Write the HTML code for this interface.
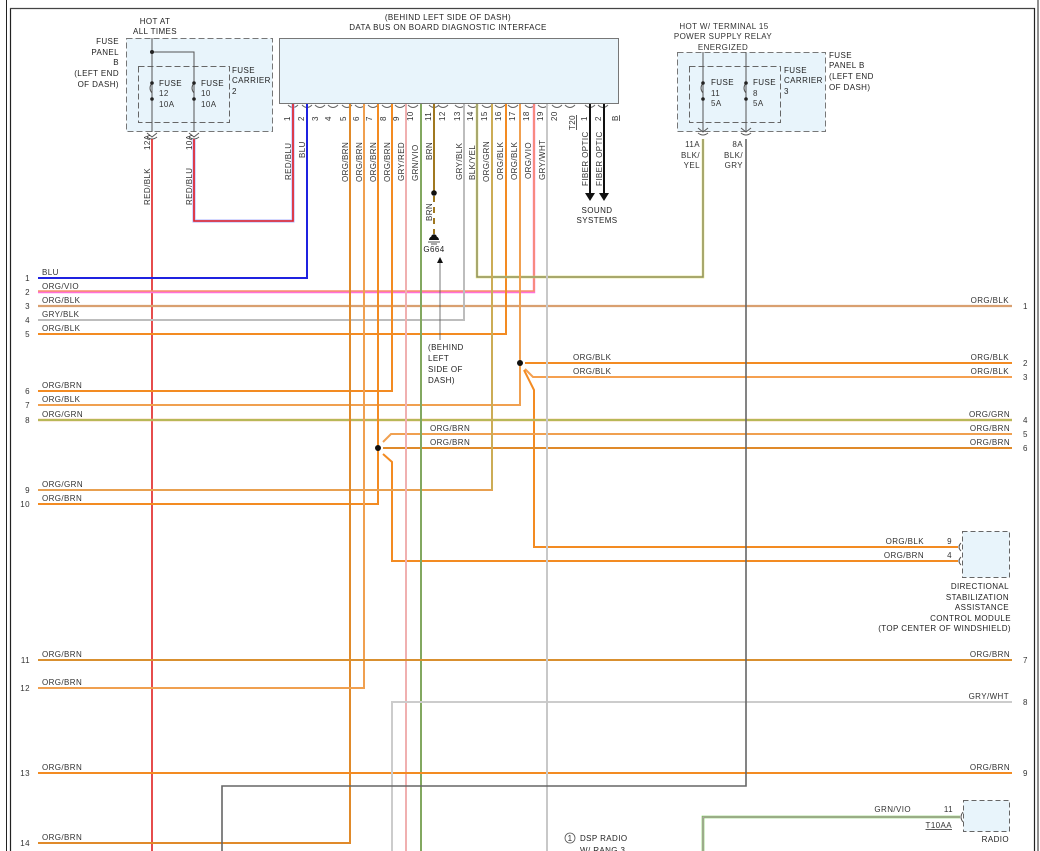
<!DOCTYPE html>
<html><head><meta charset="utf-8"><style>
html,body{margin:0;padding:0;background:#fff;}
svg{display:block;}
text{font-family:"Liberation Sans",sans-serif;font-size:8px;fill:#333;letter-spacing:0.4px;}
.b{fill:#222;}
</style></head><body>
<svg width="1040" height="851" viewBox="0 0 1040 851" xmlns="http://www.w3.org/2000/svg">
<!-- borders -->
<line x1="6.5" y1="0" x2="6.5" y2="851" stroke="#222" stroke-width="1"/>
<line x1="10.5" y1="8" x2="10.5" y2="851" stroke="#222" stroke-width="1.2"/>
<line x1="10" y1="8.5" x2="1035" y2="8.5" stroke="#444" stroke-width="1.2"/>
<line x1="1034.5" y1="8" x2="1034.5" y2="851" stroke="#222" stroke-width="1.2"/>
<line x1="1038" y1="0" x2="1038" y2="851" stroke="#222" stroke-width="1"/>

<!-- fuse panel left -->
<rect x="126.5" y="38.5" width="146" height="93" fill="#e8f4fb" stroke="#777" stroke-dasharray="6,3"/>
<rect x="138.5" y="66.5" width="91" height="56" fill="none" stroke="#666" stroke-dasharray="6,3"/>
<text x="155" y="24" class="b" text-anchor="middle">HOT AT</text>
<text x="155" y="34" class="b" text-anchor="middle">ALL TIMES</text>
<text x="119" y="44" class="b" text-anchor="end">FUSE</text>
<text x="119" y="55" class="b" text-anchor="end">PANEL</text>
<text x="119" y="65" class="b" text-anchor="end">B</text>
<text x="119" y="76" class="b" text-anchor="end">(LEFT END</text>
<text x="119" y="87" class="b" text-anchor="end">OF DASH)</text>
<text x="232" y="73" class="b">FUSE</text>
<text x="232" y="83" class="b">CARRIER</text>
<text x="232" y="94" class="b">2</text>
<g stroke="#555" stroke-width="1" fill="none">
<line x1="152" y1="38" x2="152" y2="132"/>
<polyline points="152,52 194,52 194,132"/>
<path d="M152,83 q-4,5 0,10 M194,83 q-4,5 0,10"/>
</g>
<g fill="#222"><circle cx="152" cy="52" r="2"/><circle cx="152" cy="83" r="1.8"/><circle cx="152" cy="99" r="1.8"/><circle cx="194" cy="83" r="1.8"/><circle cx="194" cy="99" r="1.8"/></g>
<text x="159" y="86" class="b">FUSE</text><text x="159" y="96">12</text><text x="159" y="107">10A</text>
<text x="201" y="86" class="b">FUSE</text><text x="201" y="96">10</text><text x="201" y="107">10A</text>
<path d="M147,133 l5,4 l5,-4 M189,133 l5,4 l5,-4" stroke="#555" fill="none"/>
<path d="M147,137 q5,4 10,0 M189,137 q5,4 10,0" stroke="#555" fill="none"/>

<!-- fuse panel right -->
<rect x="677.5" y="52.5" width="148" height="79" fill="#e8f4fb" stroke="#777" stroke-dasharray="6,3"/>
<rect x="689.5" y="66.5" width="91" height="56" fill="none" stroke="#666" stroke-dasharray="6,3"/>
<text x="724" y="29" text-anchor="middle">HOT W/ TERMINAL 15</text>
<text x="723" y="39" text-anchor="middle">POWER SUPPLY RELAY</text>
<text x="723" y="50" text-anchor="middle">ENERGIZED</text>
<text x="829" y="58" class="b">FUSE</text><text x="829" y="68" class="b">PANEL B</text><text x="829" y="79" class="b">(LEFT END</text><text x="829" y="90" class="b">OF DASH)</text>
<text x="784" y="73" class="b">FUSE</text><text x="784" y="83" class="b">CARRIER</text><text x="784" y="94" class="b">3</text>
<g stroke="#555" fill="none">
<line x1="703" y1="52" x2="703" y2="132"/><line x1="746" y1="52" x2="746" y2="132"/>
<path d="M703,83 q-4,5 0,10 M746,83 q-4,5 0,10"/>
</g>
<g fill="#222"><circle cx="703" cy="83" r="1.8"/><circle cx="703" cy="99" r="1.8"/><circle cx="746" cy="83" r="1.8"/><circle cx="746" cy="99" r="1.8"/></g>
<text x="711" y="85" class="b">FUSE</text><text x="711" y="96">11</text><text x="711" y="106">5A</text>
<text x="753" y="85" class="b">FUSE</text><text x="753" y="96">8</text><text x="753" y="106">5A</text>
<path d="M698,128 l5,4 l5,-4 M741,128 l5,4 l5,-4 M698,133 q5,4 10,0 M741,133 q5,4 10,0" stroke="#555" fill="none"/>
<text x="700" y="147" text-anchor="end">11A</text><text x="700" y="158" text-anchor="end">BLK/</text><text x="700" y="168" text-anchor="end">YEL</text>
<text x="743" y="147" text-anchor="end">8A</text><text x="743" y="158" text-anchor="end">BLK/</text><text x="743" y="168" text-anchor="end">GRY</text>

<!-- connector -->
<text x="448" y="20" text-anchor="middle" class="b">(BEHIND LEFT SIDE OF DASH)</text>
<text x="448" y="30" text-anchor="middle" class="b">DATA BUS ON BOARD DIAGNOSTIC INTERFACE</text>
<rect x="279.5" y="38.5" width="339" height="65" fill="#e8f4fb" stroke="#777"/>
<g stroke="#666" fill="none">
<path d="M288,105 q5,5 10,0 M302,105 q5,5 10,0 M315,105 q5,5 10,0 M328,105 q5,5 10,0 M342,105 q5,5 10,0 M355,105 q5,5 10,0 M368,105 q5,5 10,0 M382,105 q5,5 10,0 M395,105 q5,5 10,0 M408,105 q5,5 10,0 M429,105 q5,5 10,0 M438,105 q5,5 10,0 M455,105 q5,5 10,0 M468,105 q5,5 10,0 M482,105 q5,5 10,0 M495,105 q5,5 10,0 M508,105 q5,5 10,0 M525,105 q5,5 10,0 M538,105 q5,5 10,0 M552,105 q5,5 10,0 M565,105 q5,5 10,0 M585,105 q5,5 10,0 M598,105 q5,5 10,0"/>
</g>
<g font-size="7.5">
<text transform="translate(290,121) rotate(-90)">1</text>
<text transform="translate(304,121) rotate(-90)">2</text>
<text transform="translate(318,121) rotate(-90)">3</text>
<text transform="translate(331,121) rotate(-90)">4</text>
<text transform="translate(346,121) rotate(-90)">5</text>
<text transform="translate(359,121) rotate(-90)">6</text>
<text transform="translate(372,121) rotate(-90)">7</text>
<text transform="translate(386,121) rotate(-90)">8</text>
<text transform="translate(399,121) rotate(-90)">9</text>
<text transform="translate(413,121) rotate(-90)">10</text>
<text transform="translate(431,121) rotate(-90)">11</text>
<text transform="translate(445,121) rotate(-90)">12</text>
<text transform="translate(460,121) rotate(-90)">13</text>
<text transform="translate(473,121) rotate(-90)">14</text>
<text transform="translate(487,121) rotate(-90)">15</text>
<text transform="translate(501,121) rotate(-90)">16</text>
<text transform="translate(515,121) rotate(-90)">17</text>
<text transform="translate(529,121) rotate(-90)">18</text>
<text transform="translate(543,121) rotate(-90)">19</text>
<text transform="translate(557,121) rotate(-90)">20</text>
<text transform="translate(575,130) rotate(-90)" text-decoration="underline">T20</text>
<text transform="translate(587,121) rotate(-90)">1</text>
<text transform="translate(601,121) rotate(-90)">2</text>
<text transform="translate(618,121) rotate(-90)" text-decoration="underline">B</text>
</g>
<!-- rotated wire labels -->
<g>
<text transform="translate(150,205) rotate(-90)">RED/BLK</text>
<text transform="translate(150,150) rotate(-90)">12A</text>
<text transform="translate(192,205) rotate(-90)">RED/BLU</text>
<text transform="translate(192,150) rotate(-90)">10A</text>
<text transform="translate(291,180) rotate(-90)">RED/BLU</text>
<text transform="translate(305,158) rotate(-90)">BLU</text>
<text transform="translate(348,182) rotate(-90)">ORG/BRN</text>
<text transform="translate(362,182) rotate(-90)">ORG/BRN</text>
<text transform="translate(376,182) rotate(-90)">ORG/BRN</text>
<text transform="translate(390,182) rotate(-90)">ORG/BRN</text>
<text transform="translate(404,181) rotate(-90)">GRY/RED</text>
<text transform="translate(418,181) rotate(-90)">GRN/VIO</text>
<text transform="translate(432,160) rotate(-90)">BRN</text>
<text transform="translate(432,221) rotate(-90)">BRN</text>
<text transform="translate(462,180) rotate(-90)">GRY/BLK</text>
<text transform="translate(475,180) rotate(-90)">BLK/YEL</text>
<text transform="translate(489,182) rotate(-90)">ORG/GRN</text>
<text transform="translate(503,180) rotate(-90)">ORG/BLK</text>
<text transform="translate(517,180) rotate(-90)">ORG/BLK</text>
<text transform="translate(531,179) rotate(-90)">ORG/VIO</text>
<text transform="translate(545,180) rotate(-90)">GRY/WHT</text>
<text transform="translate(588,186) rotate(-90)" fill="#3a6b8c">FIBER OPTIC</text>
<text transform="translate(602,186) rotate(-90)" fill="#3a6b8c">FIBER OPTIC</text>
</g>
<!-- fiber optic arrows -->
<g stroke="#111" stroke-width="2"><line x1="590" y1="104" x2="590" y2="195"/><line x1="604" y1="104" x2="604" y2="195"/></g>
<path d="M585,193 l5,8 l5,-8 z M599,193 l5,8 l5,-8 z" fill="#111"/>
<text x="597" y="213" text-anchor="middle" class="b">SOUND</text>
<text x="597" y="223" text-anchor="middle" class="b">SYSTEMS</text>

<!-- wires -->
<g fill="none" stroke-width="2">
<!-- red/blk fuse12 -->
<line x1="152" y1="139" x2="152" y2="851" stroke="#e02020" stroke-width="1.6"/>
<!-- red/blu -->
<polyline points="194,139 194,221 293,221 293,104" stroke="#aab0ff" stroke-width="3"/>
<polyline points="194,139 194,221 293,221 293,104" stroke="#e82020" stroke-width="1.6"/>
<!-- blu -->
<polyline points="307,104 307,278 38,278" stroke="#1f22e0"/>
<!-- org/vio line 2 -->
<polyline points="534,104 534,292 38,292" stroke="#ff70d8" stroke-width="2.4"/>
<polyline points="534,104 534,291 38,291" stroke="#f7906a" stroke-width="1.6"/>
<!-- line 3 org/blk full -->
<line x1="38" y1="306" x2="1012" y2="306" stroke="#d9a070" stroke-width="2.2"/>
<!-- gry/blk -->
<polyline points="464,104 464,320 38,320" stroke="#bdbdbd"/>
<!-- org/blk line 5 -->
<polyline points="506,104 506,334 38,334" stroke="#f38b22"/>
<!-- blk/yel -->
<polyline points="477,104 477,277 703,277 703,139" stroke="#d8d860" stroke-width="2.4"/>
<polyline points="477,104 477,277 703,277 703,139" stroke="#777" stroke-width="1"/>
<!-- pin17 junction -->
<polyline points="520,104 520,405 38,405" stroke="#f0a050"/>
<line x1="525" y1="363" x2="1012" y2="363" stroke="#f38b22"/>
<polyline points="525,369 533,377 1012,377" stroke="#f5a050"/>
<polyline points="524,370 534,390 534,547 958,547" stroke="#f38b22"/>
<!-- line 6 -->
<polyline points="392,104 392,391 38,391" stroke="#f38b22"/>
<!-- line 8 org/grn full -->
<line x1="38" y1="420" x2="1012" y2="420" stroke="#f0b070" stroke-width="2.4"/>
<line x1="38" y1="420" x2="1012" y2="420" stroke="#80c040" stroke-width="0.9"/>
<!-- pin7 junction -->
<polyline points="378,104 378,504 38,504" stroke="#f38b22"/>
<polyline points="383,442 391,434 1012,434" stroke="#f0a050"/>
<line x1="383" y1="448" x2="1012" y2="448" stroke="#e08a2a"/>
<polyline points="383,454 392,462 392,561 958,561" stroke="#f38b22"/>
<!-- line 9 org/grn -->
<polyline points="492,104 492,490 38,490" stroke="#e8a050"/>
<line x1="492" y1="104" x2="492" y2="490" stroke="#a0c060" stroke-width="0.8"/>
<!-- pin5, pin6 -->
<polyline points="350,104 350,843 38,843" stroke="#e08a2a"/>
<polyline points="364,104 364,688 38,688" stroke="#f0a050"/>
<!-- gry/red, grn/vio -->
<line x1="406" y1="104" x2="406" y2="851" stroke="#f0b0b0"/>
<line x1="421" y1="104" x2="421" y2="851" stroke="#60c030"/>
<line x1="421" y1="104" x2="421" y2="851" stroke="#d070d0" stroke-width="0.6"/>
<!-- brn -->
<line x1="434" y1="104" x2="434" y2="192" stroke="#a07820"/>
<line x1="434" y1="196" x2="434" y2="234" stroke="#a07820" stroke-dasharray="6,5"/>
<!-- horizontals 11,13 -->
<line x1="38" y1="660" x2="1012" y2="660" stroke="#d99030"/>
<line x1="38" y1="773" x2="1012" y2="773" stroke="#f38b22"/>
<!-- gry/wht line 8 right -->
<polyline points="1012,702 392,702 392,851" stroke="#cccccc"/>
<line x1="547" y1="104" x2="547" y2="851" stroke="#c8c8c8"/>
<!-- blk/gry -->
<polyline points="746,139 746,786 222,786 222,851" stroke="#666" stroke-width="1.6"/>
<!-- grn/vio radio -->
<polyline points="960,817 703,817 703,851" stroke="#70c850" stroke-width="2.6"/>
<polyline points="960,817 703,817 703,851" stroke="#e080e0" stroke-width="0.8"/>
</g>
<g fill="#111">
<circle cx="520" cy="363" r="3"/><circle cx="378" cy="448" r="3"/><circle cx="434" cy="193" r="2.8"/><circle cx="434" cy="237" r="2.8"/>
</g>
<!-- ground symbol -->
<path d="M429,240 a5,4 0 0 1 10,0 z" fill="#111"/>
<line x1="428" y1="242" x2="440" y2="242" stroke="#555"/>
<line x1="431" y1="244" x2="437" y2="244" stroke="#555"/>
<text x="434" y="252" text-anchor="middle" class="b">G664</text>
<line x1="440" y1="262" x2="440" y2="340" stroke="#555" stroke-width="0.8"/>
<path d="M437,263 l3,-6 l3,6 z" fill="#111"/>
<text x="428" y="350" class="b">(BEHIND</text><text x="428" y="361" class="b">LEFT</text><text x="428" y="372" class="b">SIDE OF</text><text x="428" y="383" class="b">DASH)</text>

<!-- left labels -->
<g>
<text x="42" y="275">BLU</text><text x="42" y="289">ORG/VIO</text><text x="42" y="303">ORG/BLK</text><text x="42" y="317">GRY/BLK</text><text x="42" y="331">ORG/BLK</text>
<text x="42" y="388">ORG/BRN</text><text x="42" y="402">ORG/BLK</text><text x="42" y="417">ORG/GRN</text>
<text x="42" y="487">ORG/GRN</text><text x="42" y="501">ORG/BRN</text>
<text x="42" y="657">ORG/BRN</text><text x="42" y="685">ORG/BRN</text><text x="42" y="770">ORG/BRN</text><text x="42" y="840">ORG/BRN</text>
</g>
<g font-size="7.5" text-anchor="end">
<text x="30" y="281">1</text><text x="30" y="295">2</text><text x="30" y="309">3</text><text x="30" y="323">4</text><text x="30" y="337">5</text>
<text x="30" y="394">6</text><text x="30" y="408">7</text><text x="30" y="423">8</text><text x="30" y="493">9</text><text x="30" y="507">10</text>
<text x="30" y="663">11</text><text x="30" y="691">12</text><text x="30" y="776">13</text><text x="30" y="846">14</text>
</g>
<!-- mid labels -->
<text x="573" y="360">ORG/BLK</text><text x="573" y="374">ORG/BLK</text>
<text x="430" y="431">ORG/BRN</text><text x="430" y="445">ORG/BRN</text>
<!-- right labels -->
<g text-anchor="end">
<text x="1009" y="303">ORG/BLK</text><text x="1009" y="360">ORG/BLK</text><text x="1009" y="374">ORG/BLK</text>
<text x="1010" y="417">ORG/GRN</text><text x="1010" y="431">ORG/BRN</text><text x="1010" y="445">ORG/BRN</text>
<text x="1010" y="657">ORG/BRN</text><text x="1009" y="699">GRY/WHT</text><text x="1010" y="770">ORG/BRN</text>
</g>
<g font-size="7.5">
<text x="1023" y="309">1</text><text x="1023" y="366">2</text><text x="1023" y="380">3</text><text x="1023" y="423">4</text><text x="1023" y="437">5</text><text x="1023" y="451">6</text>
<text x="1023" y="663">7</text><text x="1023" y="705">8</text><text x="1023" y="776">9</text>
</g>

<!-- DSASCM module -->
<rect x="962.5" y="531.5" width="47" height="46" fill="#e8f4fb" stroke="#666" stroke-dasharray="5,3"/>
<path d="M961,543 q-4,4 0,8 M961,557 q-4,4 0,8" stroke="#555" fill="none"/>
<text x="924" y="544" text-anchor="end">ORG/BLK</text><text x="924" y="558" text-anchor="end">ORG/BRN</text>
<text x="952" y="544" font-size="7.5" text-anchor="end">9</text><text x="952" y="558" font-size="7.5" text-anchor="end">4</text>
<g class="b" text-anchor="end">
<text x="1009" y="589" class="b">DIRECTIONAL</text>
<text x="1009" y="600" class="b">STABILIZATION</text>
<text x="1009" y="610" class="b">ASSISTANCE</text>
<text x="1011" y="621" class="b">CONTROL MODULE</text>
<text x="1011" y="631" class="b">(TOP CENTER OF WINDSHIELD)</text>
</g>

<!-- radio -->
<rect x="963.5" y="800.5" width="46" height="31" fill="#e8f4fb" stroke="#666" stroke-dasharray="5,3"/>
<path d="M963,812 q-4,5 0,10" stroke="#555" fill="none"/>
<text x="911" y="812" text-anchor="end">GRN/VIO</text>
<text x="953" y="812" text-anchor="end" font-size="7.5">11</text>
<text x="952" y="828" text-anchor="end" text-decoration="underline">T10AA</text>
<text x="1009" y="842" text-anchor="end" class="b">RADIO</text>

<!-- DSP note -->
<circle cx="570" cy="838" r="5" fill="none" stroke="#555" stroke-width="0.8"/>
<text x="570" y="841" text-anchor="middle" font-size="7">1</text>
<text x="580" y="841" class="b">DSP RADIO</text>
<text x="580" y="853" class="b">W/ RANG 3</text>
</svg>
</body></html>
